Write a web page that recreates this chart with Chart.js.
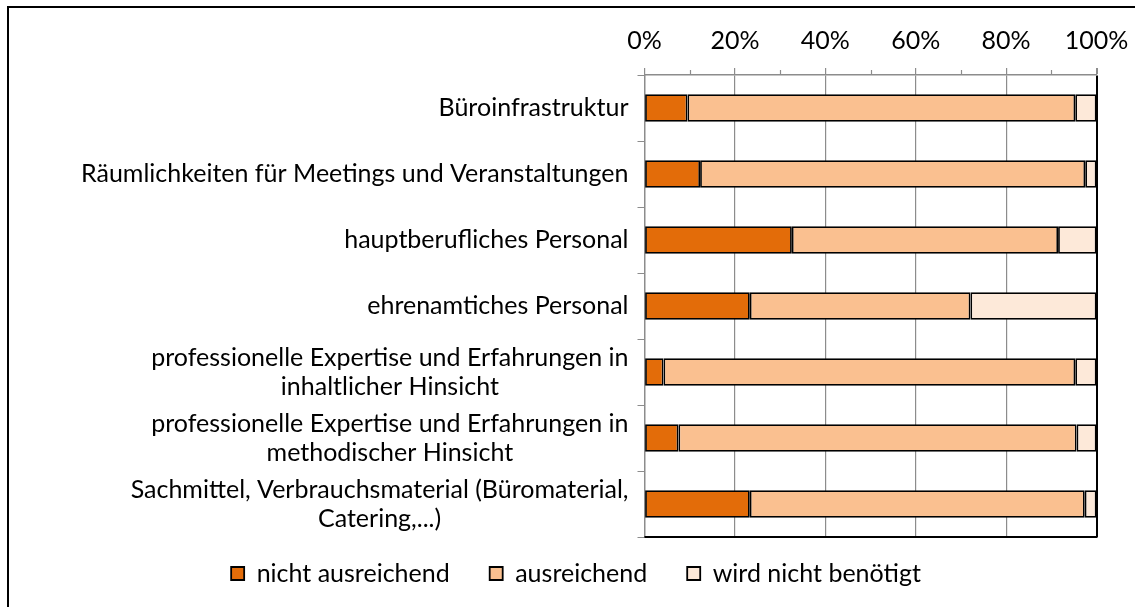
<!DOCTYPE html>
<html>
<head>
<meta charset="utf-8">
<script src="https://cdn.jsdelivr.net/npm/chart.js@4.4.1/dist/chart.umd.min.js"></script>
<style>
  html, body { margin: 0; padding: 0; background: #fff; }
  #wrap { position: relative; width: 1135px; height: 607px; }
  #frame {
    position: absolute; left: 7px; top: 6px; right: -10px; bottom: -10px;
    border-left: 2px solid #000; border-top: 2px solid #000;
    pointer-events: none;
  }
</style>
</head>
<body>
<div id="wrap">
  <canvas id="chart" width="1135" height="607"></canvas>
  <div id="frame"></div>
</div>
<script>
const categories = [
  'Büroinfrastruktur',
  'Räumlichkeiten für Meetings und Veranstaltungen',
  'hauptberufliches Personal',
  'ehrenamtiches Personal',
  ['professionelle Expertise und Erfahrungen in', 'inhaltlicher Hinsicht'],
  ['professionelle Expertise und Erfahrungen in', 'methodischer Hinsicht'],
  ['Sachmittel, Verbrauchsmaterial (Büromaterial,', 'Catering,...)']
];
const seriesNames = ['nicht ausreichend', 'ausreichend', 'wird nicht benötigt'];
const nichtAusreichend = [9.5, 12.3, 32.6, 23.3, 4.2, 7.5, 23.3];
const ausreichend = [85.8, 85.2, 58.9, 48.8, 91.1, 88.1, 74.1];
const nichtBenoetigt = [4.7, 2.5, 8.5, 27.9, 4.7, 4.4, 2.6];
const xTicks = [0, 20, 40, 60, 80, 100];

const colors = ['#E36C09', '#FAC090', '#FDE9D9'];
const FONT = 'Lato';
const FS = 25;
const LINE_H = 29;

// category labels (block right aligned, lines centered), minor ticks, bottom frame line, legend shift
const labelPlugin = {
  id: 'labels',
  afterLayout(chart) {
    const lg = chart.legend;
    lg.left = 576 - 450;
    lg.right = 576 + 450;
    lg.top = 521;
  },
  afterDraw(chart) {
    const ctx = chart.ctx;
    const y = chart.scales.y;
    const x = chart.scales.x;
    const area = chart.chartArea;
    ctx.save();
    ctx.font = FS + 'px ' + FONT;
    ctx.fillStyle = '#000';
    ctx.textBaseline = 'middle';
    ctx.textAlign = 'center';
    const xRight = area.left - 16;
    categories.forEach((lab, i) => {
      const lines = Array.isArray(lab) ? lab : [lab];
      const w = Math.max(...lines.map(l => ctx.measureText(l).width));
      const cy = y.getPixelForValue(i);
      lines.forEach((l, k) => {
        ctx.fillText(l, xRight - w / 2, cy + (k - (lines.length - 1) / 2) * LINE_H);
      });
    });
    // minor ticks at 10% steps
    ctx.strokeStyle = '#8c8c8c';
    ctx.lineWidth = 1.2;
    for (let v = 10; v < 100; v += 20) {
      const px = Math.round(x.getPixelForValue(v)) + 0.5;
      ctx.beginPath();
      ctx.moveTo(px, area.top);
      ctx.lineTo(px, area.top - 5);
      ctx.stroke();
    }
    ctx.strokeStyle = '#000';
    ctx.lineWidth = 2;
    ctx.beginPath();
    ctx.moveTo(area.left, area.bottom);
    ctx.lineTo(area.right + 1, area.bottom);
    ctx.stroke();
    ctx.restore();
  }
};

const datasets = [nichtAusreichend, ausreichend, nichtBenoetigt].map((d, i) => ({
  label: seriesNames[i],
  data: d,
  backgroundColor: colors[i],
  borderColor: '#000',
  borderWidth: 1.8,
  borderSkipped: false,
  barPercentage: 0.42,
  categoryPercentage: 1
}));

new Chart(document.getElementById('chart'), {
  type: 'bar',
  data: { labels: categories, datasets: datasets },
  plugins: [labelPlugin],
  options: {
    indexAxis: 'y',
    responsive: false,
    animation: false,
    layout: { padding: { left: 10, right: 38.5, top: 14, bottom: 10 } },
    plugins: {
      tooltip: { enabled: false },
      legend: {
        position: 'bottom',
        maxHeight: 60,
        labels: {
          font: { family: FONT, size: FS },
          color: '#000',
          boxWidth: 13,
          boxHeight: 13,
          padding: 40
        }
      }
    },
    scales: {
      x: {
        position: 'top',
        stacked: true,
        min: 0,
        max: 100,
        afterFit(scale) { scale.paddingLeft = 0; scale.paddingRight = 0; },
        ticks: {
          stepSize: 20,
          autoSkip: false,
          maxRotation: 0,
          padding: 12,
          color: '#000',
          font: { family: FONT, size: FS },
          callback: v => xTicks.includes(v) ? v + '%' : ''
        },
        grid: {
          color: c => c.tick && c.tick.value === 100 ? '#000' : (c.tick && c.tick.value > 0 ? '#8c8c8c' : 'rgba(0,0,0,0)'),
          lineWidth: c => c.tick && c.tick.value === 100 ? 2 : 1.2,
          tickColor: '#8c8c8c',
          tickLength: 7
        },
        border: { color: '#8c8c8c', width: 1.5 }
      },
      y: {
        stacked: true,
        afterFit(scale) { scale.width = 634.5; },
        ticks: { display: false },
        grid: {
          offset: true,
          drawOnChartArea: false,
          tickColor: '#8c8c8c',
          tickLength: 7
        },
        border: { color: '#8c8c8c', width: 1.5 }
      }
    }
  }
});
</script>
</body>
</html>
